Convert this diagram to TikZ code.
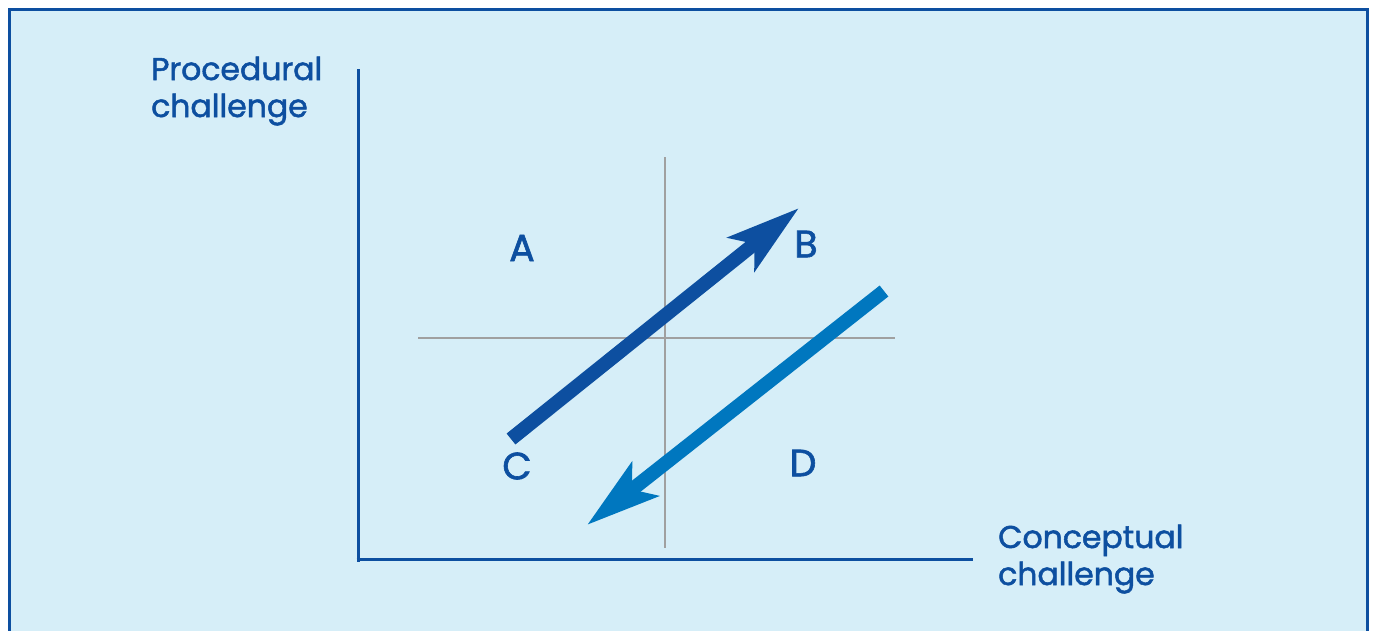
\documentclass[tikz,border=0pt]{standalone}
\usepackage{fontspec}
\setmainfont{Poppins}
\newfontfamily\labelfont[FakeBold=1.6]{Poppins}
\usetikzlibrary{arrows.meta}
\definecolor{boxfill}{HTML}{D6EEF8}
\definecolor{darkblue}{HTML}{0D4FA0}
\definecolor{lightblue}{HTML}{0077BF}
\definecolor{gridgray}{HTML}{A0A0A0}
\tikzset{
  axisline/.style={draw=darkblue, line width=3pt},
  gridline/.style={draw=gridgray, line width=1.5pt},
  quad/.style={text=darkblue, font=\labelfont\fontsize{38}{40}\selectfont, inner sep=0pt},
  axlabel/.style={text=darkblue, font=\labelfont\fontsize{31.5}{37}\selectfont, align=left, inner sep=0pt, anchor=base west},
  bigarrow/.style={line width=14pt, -{Stealth[length=73pt, width=42pt, inset=16pt]}},
}
\begin{document}
\begin{tikzpicture}[x=1pt, y=-1pt]
\useasboundingbox (0,0) rectangle (1375,630);
\fill[white] (0,0) rectangle (1375,630);
\path[fill=boxfill, draw=darkblue, line width=3pt] (9.5,9.5) rectangle (1367.5,640);
% axes
\coordinate (yt) at (358,69);
\coordinate (o) at (358,562);
\coordinate (xo) at (356.5,559);
\coordinate (xr) at (973,559);
\draw[axisline] (yt) -- (o);
\draw[axisline] (xo) -- (xr);
% grid cross
\coordinate (gvt) at (665,157);
\coordinate (gvb) at (665,548);
\coordinate (ghl) at (418,338);
\coordinate (ghr) at (895,338);
\draw[gridline] (gvt) -- (gvb);
\draw[gridline] (ghl) -- (ghr);
% labels
\node[quad] (A) at (522,248) {A};
\node[quad] (B) at (806,244) {B};
\node[quad] (C) at (517,466) {C};
\node[quad] (D) at (803,463) {D};
\node[axlabel] (proc) at (151,117) {Procedural\\challenge};
\node[axlabel] (conc) at (998,585) {Conceptual\\challenge};
% arrows
\coordinate (a1s) at (511,439);
\coordinate (a1e) at (799,208);
\coordinate (a2s) at (884,291);
\coordinate (a2e) at (587,525);
\draw[bigarrow, draw=darkblue, fill=darkblue] (a1s) -- (a1e);
\draw[bigarrow, draw=lightblue, fill=lightblue] (a2s) -- (a2e);
\end{tikzpicture}
\end{document}
